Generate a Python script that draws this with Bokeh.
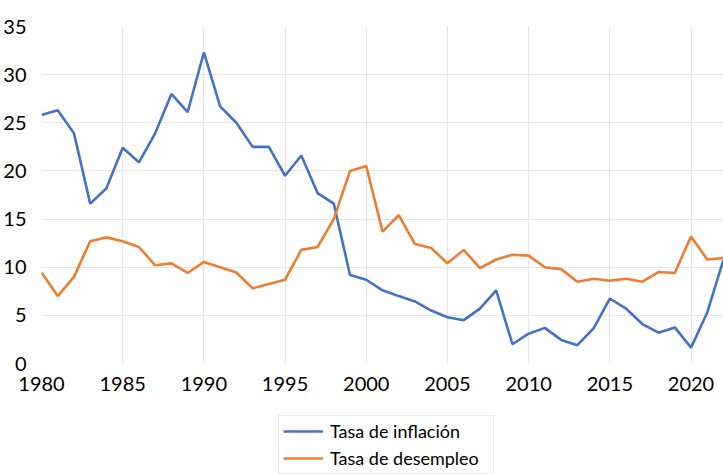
from bokeh.plotting import figure
from bokeh.models import Legend, LegendItem, FixedTicker, Range1d
from bokeh.layouts import column
from bokeh.embed import file_html
from bokeh.resources import INLINE

years = list(range(1980, 2023))
inflacion = [25.8, 26.3, 23.9, 16.6, 18.2, 22.4, 20.9, 23.9, 28.0, 26.1,
             32.3, 26.7, 25.0, 22.5, 22.5, 19.5, 21.6, 17.7, 16.6, 9.2,
             8.7, 7.6, 7.0, 6.45, 5.5, 4.8, 4.5, 5.7, 7.6, 2.0,
             3.1, 3.7, 2.45, 1.9, 3.65, 6.75, 5.7, 4.1, 3.2, 3.75,
             1.65, 5.3, 10.8]
desempleo = [9.45, 7.0, 9.0, 12.7, 13.1, 12.7, 12.1, 10.2, 10.4, 9.4,
             10.55, 10.0, 9.45, 7.8, 8.25, 8.7, 11.8, 12.1, 15.0, 20.0,
             20.5, 13.7, 15.4, 12.4, 12.0, 10.4, 11.8, 9.9, 10.8, 11.3,
             11.2, 10.0, 9.8, 8.5, 8.8, 8.6, 8.8, 8.5, 9.5, 9.4,
             13.2, 10.8, 10.95]
series_names = ["Tasa de inflación", "Tasa de desempleo"]
colors = ["#4472C4", "#ED7D31"]
x_ticks = [1980, 1985, 1990, 1995, 2000, 2005, 2010, 2015, 2020]
y_ticks = [0, 5, 10, 15, 20, 25, 30, 35]

FONT = "Lato"

p = figure(width=723, height=405, output_backend="svg", toolbar_location=None,
           x_range=Range1d(1980, 2022), y_range=Range1d(0, 35),
           min_border_left=41, min_border_right=0, min_border_top=26,
           min_border_bottom=42)
p.outline_line_color = None
p.background_fill_color = "white"
p.border_fill_color = "white"

for ax in (p.xaxis[0], p.yaxis[0]):
    ax.axis_line_color = None
    ax.major_tick_line_color = None
    ax.minor_tick_line_color = None
    ax.major_label_text_font = FONT
    ax.major_label_text_font_size = "20px"
    ax.major_label_text_color = "#000000"
p.xaxis.ticker = FixedTicker(ticks=x_ticks)
p.yaxis.ticker = FixedTicker(ticks=y_ticks)
p.xaxis.major_label_standoff = 7
p.yaxis.major_label_standoff = 9

p.xgrid.ticker = FixedTicker(ticks=x_ticks[1:])
p.ygrid.ticker = FixedTicker(ticks=y_ticks[1:-1])
p.xgrid.grid_line_color = "#e6e6e6"
p.ygrid.grid_line_color = "#e6e6e6"
p.xgrid.grid_line_width = 1.2
p.ygrid.grid_line_width = 1.2

p.line(years, inflacion, line_color=colors[0], line_width=2.6)
p.line(years, desempleo, line_color=colors[1], line_width=2.6)

# legend panel below the chart
q = figure(width=723, height=69, output_backend="svg", toolbar_location=None,
           x_axis_type=None, y_axis_type=None,
           x_range=Range1d(0, 1), y_range=Range1d(0, 1),
           min_border_left=0, min_border_right=0, min_border_top=0,
           min_border_bottom=0)
q.outline_line_color = None
q.border_fill_color = "white"
q.xgrid.visible = False
q.ygrid.visible = False
lr1 = q.line(x=[-5, -4], y=[-5, -4], line_color=colors[0], line_width=2.6)
lr2 = q.line(x=[-5, -4], y=[-5, -4], line_color=colors[1], line_width=2.6)

legend = Legend(items=[LegendItem(label=series_names[0], renderers=[lr1]),
                       LegendItem(label=series_names[1], renderers=[lr2])],
                location=(237, 0))
legend.border_line_color = "#d9d9d9"
legend.border_line_width = 1
legend.background_fill_alpha = 1
legend.padding = 4
legend.margin = 0
legend.spacing = 5
legend.glyph_width = 40
legend.glyph_height = 14
legend.label_height = 22
legend.label_width = 159
legend.label_standoff = 7
legend.label_text_font = FONT
legend.label_text_font_size = "18px"
legend.label_text_color = "#000000"
q.add_layout(legend, "center")

layout = column(p, q, spacing=0)
open("out.html", "w").write(file_html(layout, INLINE))
